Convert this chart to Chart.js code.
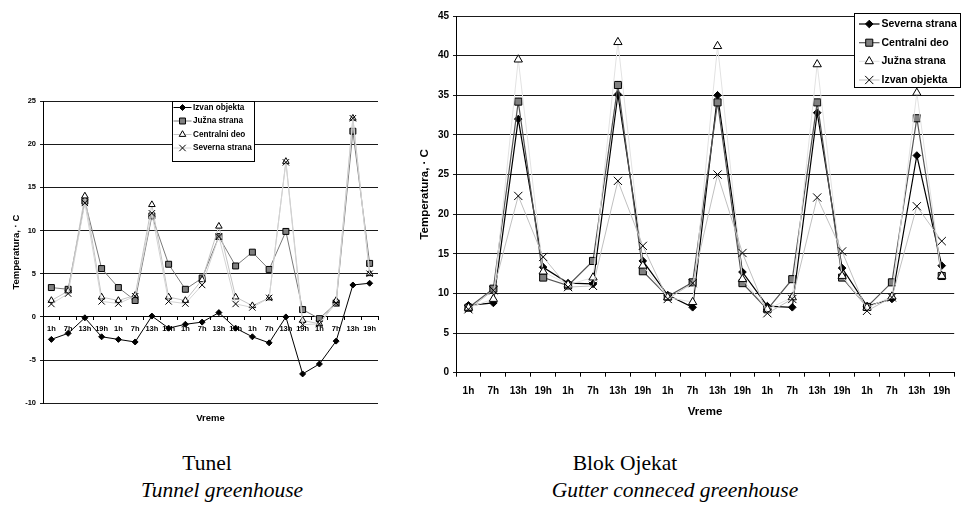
<!DOCTYPE html>
<html><head><meta charset="utf-8">
<script src="https://cdn.jsdelivr.net/npm/chart.js@4.4.1/dist/chart.umd.min.js"></script>
<style>
html,body{margin:0;padding:0;background:#fff;width:961px;height:509px;overflow:hidden;}
body{position:relative;}
.box{position:absolute;}
.cap{position:absolute;font-family:'Liberation Serif','Times New Roman',serif;font-size:21.5px;line-height:24px;color:#000;white-space:nowrap;transform:translateX(-50%);}
.it{font-style:italic;}
</style></head><body>
<div class="box" style="left:0;top:90px;width:385px;height:340px"><canvas id="c1" width="385" height="340"></canvas></div>
<div class="box" style="left:385px;top:0;width:576px;height:430px"><canvas id="c2" width="576" height="430"></canvas></div>
<div class="cap" style="left:207px;top:451px">Tunel</div>
<div class="cap it" style="left:222px;top:478px">Tunnel greenhouse</div>
<div class="cap" style="left:625px;top:451px">Blok Ojekat</div>
<div class="cap it" style="left:675px;top:478px">Gutter conneced greenhouse</div>
<script>
// ---------- data ----------
const timeLabels = ['1h','7h','13h','19h','1h','7h','13h','19h','1h','7h','13h','19h','1h','7h','13h','19h','1h','7h','13h','19h'];

// Tunel (left chart)
const tunelIzvan     = [-2.6,-1.9,-0.1,-2.3,-2.6,-2.9,0.1,-1.3,-0.85,-0.6,0.5,-1.3,-2.3,-3.0,0.0,-6.6,-5.45,-2.8,3.7,3.9];
const tunelJuzna     = [3.4,3.2,13.4,5.6,3.4,1.9,11.7,6.1,3.2,4.5,9.3,5.9,7.5,5.5,9.9,0.85,-0.2,1.6,21.5,6.2];
const tunelCentralni = [1.9,3.0,14.0,2.3,1.9,2.5,13.0,2.3,1.9,4.3,10.5,2.3,1.3,2.2,18.0,-0.4,-0.8,1.9,23.0,5.0];
const tunelSeverna   = [1.5,2.7,13.2,1.8,1.55,2.4,12.0,1.8,1.55,3.7,9.3,1.5,1.1,2.2,17.9,-0.9,-0.8,1.6,23.0,5.0];
const tunelYTicks = {min:-10, max:25, step:5};

// Blok objekat (right chart)
const blokSeverna   = [8.5,8.8,32.0,13.3,11.3,11.2,35.1,14.1,9.8,8.25,35.0,12.7,8.4,8.25,32.8,13.2,8.4,9.3,27.4,13.5];
const blokCentralni = [8.2,10.6,34.2,12.0,11.0,14.1,36.3,12.8,9.6,11.4,34.1,11.3,8.0,11.8,34.1,12.0,8.3,11.4,32.1,12.2];
const blokJuzna     = [8.2,9.3,39.5,12.75,11.1,12.0,41.7,13.5,9.5,8.9,41.2,11.8,8.0,9.5,38.9,12.2,8.2,9.6,35.3,12.2];
const blokIzvan     = [8.0,10.4,22.3,14.6,10.8,10.95,24.2,16.0,9.3,11.3,25.0,15.1,7.5,9.3,22.1,15.3,7.8,9.5,21.0,16.6];
const blokYTicks = {min:0, max:45, step:5};

const axisTitleY = 'Temperatura, · C';
const axisTitleX = 'Vreme';

// ---------- helpers ----------
const SANS = "'Liberation Sans', Arial, sans-serif";

function fallbackPoint(ctx, style, r, x, y){
  ctx.beginPath();
  if(style==='rectRot'){ctx.moveTo(x,y-r);ctx.lineTo(x+r,y);ctx.lineTo(x,y+r);ctx.lineTo(x-r,y);ctx.closePath();ctx.fill();ctx.stroke();}
  else if(style==='rect'){const s=r*Math.SQRT1_2;ctx.rect(x-s,y-s,2*s,2*s);ctx.fill();ctx.stroke();}
  else if(style==='triangle'){ctx.moveTo(x,y-r);ctx.lineTo(x+r*0.866,y+r/2);ctx.lineTo(x-r*0.866,y+r/2);ctx.closePath();ctx.fill();ctx.stroke();}
  else {const s=r*Math.SQRT1_2;ctx.moveTo(x-s,y-s);ctx.lineTo(x+s,y+s);ctx.moveTo(x+s,y-s);ctx.lineTo(x-s,y+s);ctx.stroke();}
}

const boxLegend = {
  id:'boxLegend',
  afterDatasetsDraw(chart, args, o){
    if(!o || !o.rows) return;
    const ctx = chart.ctx;
    ctx.save();
    ctx.fillStyle='#fff';
    ctx.fillRect(o.x,o.y,o.w,o.h);
    ctx.strokeStyle='#000'; ctx.lineWidth=1;
    ctx.strokeRect(o.x+0.5,o.y+0.5,o.w-1,o.h-1);
    chart.data.datasets.forEach((ds,i)=>{
      const cy=o.rows[i];
      ctx.strokeStyle=ds.borderColor; ctx.lineWidth=ds.borderWidth;
      ctx.beginPath(); ctx.moveTo(o.lx0,cy); ctx.lineTo(o.lx1,cy); ctx.stroke();
      ctx.fillStyle=ds.pointBackgroundColor; ctx.strokeStyle=ds.pointBorderColor; ctx.lineWidth=ds.pointBorderWidth;
      const mx=(o.lx0+o.lx1)/2;
      if(Chart.helpers && Chart.helpers.drawPoint){
        Chart.helpers.drawPoint(ctx,{pointStyle:ds.pointStyle,radius:ds.pointRadius,rotation:0,borderWidth:ds.pointBorderWidth},mx,cy);
      } else fallbackPoint(ctx,ds.pointStyle,ds.pointRadius,mx,cy);
      ctx.fillStyle='#000'; ctx.font=o.font; ctx.textAlign='left'; ctx.textBaseline='middle';
      ctx.fillText(ds.label,o.tx,cy);
    });
    ctx.restore();
  }
};

function mkDs(label, data, line, lw, style, r, fill, n, i){
  return {label, data, borderColor:line, borderWidth:lw, pointStyle:style, pointRadius:r, pointHoverRadius:r,
    pointBackgroundColor:fill, pointBorderColor:'#000', pointBorderWidth:1, fill:false, tension:0, order:n-i};
}

// ---------- left chart: Tunel ----------
new Chart(document.getElementById('c1'), {
  type:'line',
  data:{labels:timeLabels, datasets:[
    mkDs('Izvan objekta', tunelIzvan, '#000', 1, 'rectRot', 3, '#000', 4, 0),
    mkDs('Južna strana', tunelJuzna, '#7a7a7a', 1, 'rect', 4.2, '#808080', 4, 1),
    mkDs('Centralni deo', tunelCentralni, '#c4c4c4', 1, 'triangle', 3.8, '#fff', 4, 2),
    mkDs('Severna strana', tunelSeverna, '#d4d4d4', 1, 'crossRot', 4.5, '#000', 4, 3)
  ]},
  options:{
    responsive:false, animation:false, devicePixelRatio:1,
    layout:{padding:{left:0,right:7,top:11,bottom:0}},
    plugins:{
      legend:{display:false}, tooltip:{enabled:false},
      title:{display:true, text:axisTitleX, position:'bottom', fullSize:false, color:'#000',
        font:{family:SANS, size:9.5, weight:'bold', lineHeight:1.2}, padding:{top:9.3,bottom:6}},
      boxLegend:{x:172,y:11,w:83,h:61,rows:[17.5,31,44.5,58],lx0:173.5,lx1:191.5,tx:193,font:"bold 8.2px "+SANS}
    },
    scales:{
      x:{type:'category', position:{y:0}, offset:true,
        grid:{display:true, offset:true, drawOnChartArea:false, drawTicks:true, tickLength:3, color:'#000'},
        border:{display:true, color:'#000', width:1},
        ticks:{autoSkip:false, maxRotation:0, minRotation:0, padding:5, color:'#000', font:{family:SANS, size:7.5, weight:'bold'}}
      },
      y:{min:tunelYTicks.min, max:tunelYTicks.max,
        afterFit(s){ s.width = 43; },
        grid:{color:'#1a1a1a', lineWidth:1, tickLength:3, drawTicks:true},
        border:{display:true, color:'#000', width:1},
        ticks:{stepSize:tunelYTicks.step, padding:4, color:'#000', font:{family:SANS, size:7.5, weight:'bold'}},
        title:{display:true, text:axisTitleY, color:'#000', font:{family:SANS, size:9.5, weight:'bold', lineHeight:1.2}, padding:{top:11,bottom:0}}
      }
    }
  },
  plugins:[boxLegend]
});

// ---------- right chart: Blok objekat ----------
new Chart(document.getElementById('c2'), {
  type:'line',
  data:{labels:timeLabels, datasets:[
    mkDs('Severna strana', blokSeverna, '#000', 1.2, 'rectRot', 3.8, '#000', 4, 0),
    mkDs('Centralni deo', blokCentralni, '#555', 1.2, 'rect', 5, '#808080', 4, 1),
    mkDs('Južna strana', blokJuzna, '#e2e2e2', 1, 'triangle', 4.8, '#fff', 4, 2),
    mkDs('Izvan objekta', blokIzvan, '#c0c0c0', 1, 'crossRot', 5.8, '#000', 4, 3)
  ]},
  options:{
    responsive:false, animation:false, devicePixelRatio:1,
    layout:{padding:{left:0,right:0,top:16,bottom:0}},
    plugins:{
      legend:{display:false}, tooltip:{enabled:false}, title:{display:false},
      boxLegend:{x:469,y:13,w:107,h:75,rows:[24,42.7,61.3,80],lx0:474,lx1:494.5,tx:496.5,font:"bold 10.5px "+SANS}
    },
    scales:{
      x:{type:'category', position:'bottom', offset:true,
        afterFit(s){ s.height = 57.3; },
        grid:{display:true, offset:true, drawOnChartArea:false, drawTicks:true, tickLength:4, color:'#000'},
        border:{display:true, color:'#000', width:1},
        ticks:{autoSkip:false, maxRotation:0, minRotation:0, padding:9, color:'#000', font:{family:SANS, size:10, weight:'bold'}},
        title:{display:true, text:axisTitleX, color:'#000', font:{family:SANS, size:11.5, weight:'bold', lineHeight:1.2}, padding:{top:0,bottom:11}}
      },
      y:{min:blokYTicks.min, max:blokYTicks.max,
        afterFit(s){ s.width = 71; },
        grid:{color:'#1a1a1a', lineWidth:1, tickLength:3, drawTicks:true},
        border:{display:true, color:'#000', width:1},
        ticks:{stepSize:blokYTicks.step, padding:4, color:'#000', font:{family:SANS, size:10, weight:'bold'}},
        title:{display:true, text:axisTitleY, color:'#000', font:{family:SANS, size:11.5, weight:'bold', lineHeight:1.2}, padding:{top:33,bottom:0}}
      }
    }
  },
  plugins:[boxLegend]
});
</script>
</body></html>
